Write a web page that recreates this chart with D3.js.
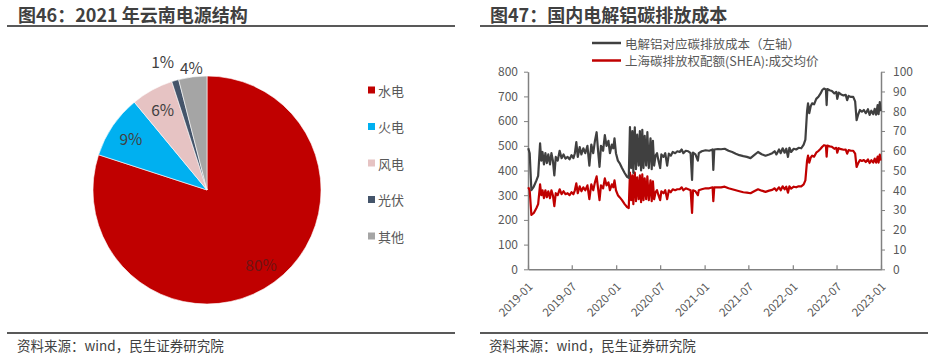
<!DOCTYPE html>
<html><head><meta charset="utf-8">
<script src="https://cdn.jsdelivr.net/npm/d3@7"></script>
<style>
html,body{margin:0;padding:0;background:#fff;}
svg{display:block;font-family:"Noto Sans CJK SC","Noto Sans",sans-serif;}
</style></head>
<body><svg id="c" width="939" height="359"></svg>
<script>
// ---------- Data: left panel (pie) ----------
const pieCategories = ["水电", "火电", "风电", "光伏", "其他"];
const pieValues = [80, 9, 6, 1, 4];
const pieColors = ["#C00000", "#00B0F0", "#E6C3C3", "#44546A", "#A5A5A5"];

// ---------- Data: right panel (lines) ----------
const seriesNames = ["电解铝对应碳排放成本（左轴）", "上海碳排放权配额(SHEA):成交均价"];
const dates = [
"2019-01-02","2019-01-08","2019-01-15","2019-01-25","2019-02-05","2019-02-12","2019-02-20","2019-02-25","2019-03-02","2019-03-08",
"2019-03-14","2019-03-20","2019-03-26","2019-04-02","2019-04-08","2019-04-14","2019-04-20","2019-04-26","2019-05-04","2019-05-12",
"2019-05-20","2019-05-28","2019-06-05","2019-06-14","2019-06-22","2019-06-30","2019-07-08","2019-07-14","2019-07-20","2019-07-26",
"2019-08-03","2019-08-10","2019-08-18","2019-08-26","2019-09-04","2019-09-12","2019-09-20","2019-09-28","2019-10-05","2019-10-12",
"2019-10-18","2019-10-24","2019-10-30","2019-11-08","2019-11-15","2019-11-22","2019-11-30","2019-12-06","2019-12-14","2019-12-20",
"2019-12-25","2019-12-31","2020-01-08","2020-01-15","2020-01-25","2020-02-05","2020-02-15","2020-02-22","2020-02-27","2020-03-03",
"2020-03-08","2020-03-12","2020-03-18","2020-03-23","2020-03-28","2020-04-03","2020-04-08","2020-04-13","2020-04-18","2020-04-23",
"2020-04-28","2020-05-04","2020-05-09","2020-05-15","2020-05-22","2020-05-27","2020-06-01","2020-06-06","2020-06-12","2020-06-18",
"2020-06-24","2020-07-01","2020-07-06","2020-07-15","2020-07-22","2020-07-30","2020-08-06","2020-08-14","2020-08-22","2020-09-01",
"2020-09-10","2020-09-20","2020-09-28","2020-10-05","2020-10-15","2020-10-25","2020-11-04","2020-11-10","2020-11-14","2020-11-24",
"2020-12-04","2020-12-08","2020-12-20","2021-01-05","2021-01-20","2021-02-03","2021-02-06","2021-02-10","2021-02-25","2021-03-10",
"2021-03-25","2021-04-10","2021-04-25","2021-05-10","2021-05-25","2021-06-10","2021-06-25","2021-07-10","2021-07-25","2021-08-10",
"2021-08-25","2021-09-10","2021-09-25","2021-10-08","2021-10-18","2021-10-25","2021-11-05","2021-11-12","2021-11-20","2021-11-28",
"2021-12-05","2021-12-12","2021-12-18","2021-12-25","2022-01-05","2022-01-15","2022-01-25","2022-02-05","2022-02-15","2022-02-22",
"2022-03-01","2022-03-05","2022-03-10","2022-03-16","2022-03-22","2022-03-30","2022-04-08","2022-04-18","2022-04-26","2022-05-03",
"2022-05-10","2022-05-18","2022-05-21","2022-05-24","2022-06-02","2022-06-12","2022-06-22","2022-06-30","2022-07-04","2022-07-10",
"2022-07-20","2022-07-30","2022-08-08","2022-08-14","2022-08-20","2022-08-30","2022-09-08","2022-09-16","2022-09-22","2022-09-28",
"2022-10-06","2022-10-14","2022-10-22","2022-10-30","2022-11-08","2022-11-15","2022-11-22","2022-11-30","2022-12-06","2022-12-12",
"2022-12-18","2022-12-22","2022-12-27","2022-12-30"
];
const costValues = [
490,470,320,335,360,378,510,440,475,425,
470,430,465,425,470,440,380,455,440,480,
450,465,448,455,445,462,450,470,515,455,
495,465,490,470,500,420,505,470,520,555,
480,415,500,480,543,500,520,470,505,490,
530,470,440,430,410,390,374,370,576,410,
560,390,575,405,545,420,560,400,565,410,
540,420,555,410,530,405,520,420,460,470,
440,410,465,455,470,420,468,460,475,470,
478,475,485,470,480,478,470,362,472,465,
440,470,478,482,480,485,402,485,487,486,
488,480,475,468,462,458,455,450,462,475,
466,460,465,470,478,465,485,470,490,472,
488,455,492,475,488,485,492,490,505,525,
640,672,632,660,672,668,690,700,712,726,
732,728,665,730,725,722,712,718,690,715,
708,704,706,685,702,698,698,680,604,625,
645,638,645,632,648,625,642,628,650,626,
665,628,677,640
];
const priceValues = [
41.5,40,27.5,28.5,31,33,43,37.5,40,36,
40,36.5,39.5,36,40,37.5,32,38.5,37.5,40.5,
38,39.5,38,38.5,37.5,39,38,40,43.5,38.5,
42,39.5,41.5,40,42.5,35.5,43,40,44,47,
41,35,42.5,41,46,42.5,44,40,43,41.5,
45,40,37.5,36.5,35,33,31.5,31,49,35,
47.5,33,49,34.5,46.5,35.5,47.5,34,48,35,
46,35.5,47,35,45,34.5,44.5,35.5,39,40,
37.5,35,39.5,38.5,40,35.5,40,39,40.5,40,
40.5,40.5,41.5,40,41,40.5,40,28.5,40,39.5,
37.5,40,40.5,41,41,41.5,34.5,41.5,41.5,41.5,
41.8,41,40.5,40,39.5,39,38.8,38.5,39.5,40.5,
39.8,39.2,39.8,40.2,41,39.8,41.5,40,42,40.5,
41.8,38.8,42,40.8,41.8,41.5,42,42,43,45,
55,57.5,54,56.5,57.5,57,59,60,61,62,
62.8,62.5,57,62.6,62.2,62,61,61.5,59,61.3,
60.8,60.5,60.6,58.5,60.3,60,60,58.5,51.8,53.5,
55.3,54.8,55.3,54.3,55.6,53.8,55.2,54,56,54,
57,54,58,55
];
const leftTicks = [0,100,200,300,400,500,600,700,800];
const rightTicks = [0,10,20,30,40,50,60,70,80,90,100];

// ---------- Drawing ----------
const svg = d3.select("#c");
svg.append("rect").attr("width",939).attr("height",359).attr("fill","#fff");

const titleColor = "#404040";
const textColor = "#595959";
const FONT = '"Noto Sans CJK SC","Noto Sans",sans-serif';

function panelFrame(x0, x1, tx, title){
  svg.append("text").attr("x",tx).attr("y",22).attr("font-size",18).attr("font-weight","bold")
    .attr("fill",titleColor).text(title);
  svg.append("line").attr("x1",x0).attr("x2",x1).attr("y1",26).attr("y2",26)
    .attr("stroke","#595959").attr("stroke-width",2.2);
  svg.append("line").attr("x1",x0).attr("x2",x1).attr("y1",333).attr("y2",333)
    .attr("stroke","#595959").attr("stroke-width",2.2);
  svg.append("text").attr("x",tx-1).attr("y",351).attr("font-size",13.5)
    .attr("fill",titleColor).text("资料来源：wind，民生证券研究院");
}
panelFrame(7, 455, 18, "图46：2021 年云南电源结构");
panelFrame(480, 928, 490, "图47：国内电解铝碳排放成本");

// ---- Pie ----
const cx = 207, cy = 190, R = 114;
const pieGen = d3.pie().sort(null).value(d => d);
const arcs = pieGen(pieValues);
const arcGen = d3.arc().innerRadius(0).outerRadius(R);
const gPie = svg.append("g").attr("transform",`translate(${cx},${cy})`);
gPie.selectAll("path").data(arcs).join("path")
  .attr("d",arcGen).attr("fill",(d,i)=>pieColors[i])
  .attr("stroke","#fff").attr("stroke-width",0.6);
const labelNudge = [0,0,0,-7,0];
gPie.selectAll("text").data(arcs).join("text")
  .attr("transform",(d,i)=>{
    const a = (d.startAngle+d.endAngle)/2;
    const r = pieValues[i] < 5 ? (pieValues[i] < 2 ? 134 : 124) : 92;
    return `translate(${Math.sin(a)*r + labelNudge[i]},${-Math.cos(a)*r})`;
  })
  .attr("text-anchor","middle").attr("dominant-baseline","central")
  .attr("font-size",15.5)
  .attr("fill",(d,i)=> i===0 ? "#6e1414" : "#404040")
  .text(d=>d.data+"%");

// legend
const gLeg = svg.append("g");
pieCategories.forEach((c,i)=>{
  const y = 90 + i*36.5;
  gLeg.append("rect").attr("x",368).attr("y",y-3.5).attr("width",7).attr("height",7).attr("fill",pieColors[i]);
  gLeg.append("text").attr("x",378).attr("y",y).attr("dominant-baseline","central")
    .attr("font-size",13).attr("fill",textColor).text(c);
});

// ---- Line chart ----
const parse = d3.timeParse("%Y-%m-%d");
const xs = dates.map(parse);
const x = d3.scaleTime().domain([new Date(2019,0,1), new Date(2023,0,1)]).range([528, 881]);
const yL = d3.scaleLinear().domain([0,800]).range([269.3, 71.7]);
const yR = d3.scaleLinear().domain([0,100]).range([269.3, 71.7]);
const axisColor = "#808080";

const gx = svg.append("g").attr("transform","translate(0,269.3)")
  .call(d3.axisBottom(x).ticks(d3.timeMonth.every(6)).tickFormat(d3.timeFormat("%Y-%m")).tickSizeInner(-4).tickSizeOuter(0));
gx.select(".domain").attr("stroke",axisColor).attr("stroke-width",1.5);
gx.selectAll(".tick line").attr("stroke",axisColor).attr("stroke-width",1.2);
gx.selectAll(".tick text").attr("font-size",11.5).attr("fill",textColor)
  .attr("font-family",FONT)
  .attr("text-anchor","end").attr("dx","0").attr("dy","0")
  .attr("transform","translate(3,16) rotate(-45)");

const gyl = svg.append("g").attr("transform","translate(528,0)")
  .call(d3.axisLeft(yL).tickValues(leftTicks).tickSizeInner(4).tickSizeOuter(0).tickPadding(6));
gyl.select(".domain").attr("stroke",axisColor).attr("stroke-width",1.5);
gyl.selectAll(".tick line").attr("stroke",axisColor);
gyl.selectAll(".tick text").attr("font-size",12).attr("fill",textColor).attr("font-family",FONT);

const gyr = svg.append("g").attr("transform","translate(881,0)")
  .call(d3.axisRight(yR).tickValues(rightTicks).tickSizeInner(4).tickSizeOuter(0).tickPadding(8));
gyr.select(".domain").attr("stroke",axisColor).attr("stroke-width",1.5);
gyr.selectAll(".tick line").attr("stroke",axisColor);
gyr.selectAll(".tick text").attr("font-size",12).attr("fill",textColor).attr("font-family",FONT);

const lineL = d3.line().x((d,i)=>x(xs[i])).y(d=>yL(d));
const lineR = d3.line().x((d,i)=>x(xs[i])).y(d=>yR(d));
svg.append("path").attr("d",lineR(priceValues)).attr("fill","none")
  .attr("stroke","#C00000").attr("stroke-width",2.2).attr("stroke-linejoin","round");
svg.append("path").attr("d",lineL(costValues)).attr("fill","none")
  .attr("stroke","#404040").attr("stroke-width",2.2).attr("stroke-linejoin","round");

// legend
const lineColors = ["#404040","#C00000"];
seriesNames.forEach((n,i)=>{
  const y = 43 + i*17.5;
  svg.append("line").attr("x1",592).attr("x2",621).attr("y1",y).attr("y2",y)
    .attr("stroke",lineColors[i]).attr("stroke-width",2.5);
  svg.append("text").attr("x",625).attr("y",y).attr("dominant-baseline","central")
    .attr("font-size",12.5).attr("fill",textColor).text(n);
});
</script></body></html>
